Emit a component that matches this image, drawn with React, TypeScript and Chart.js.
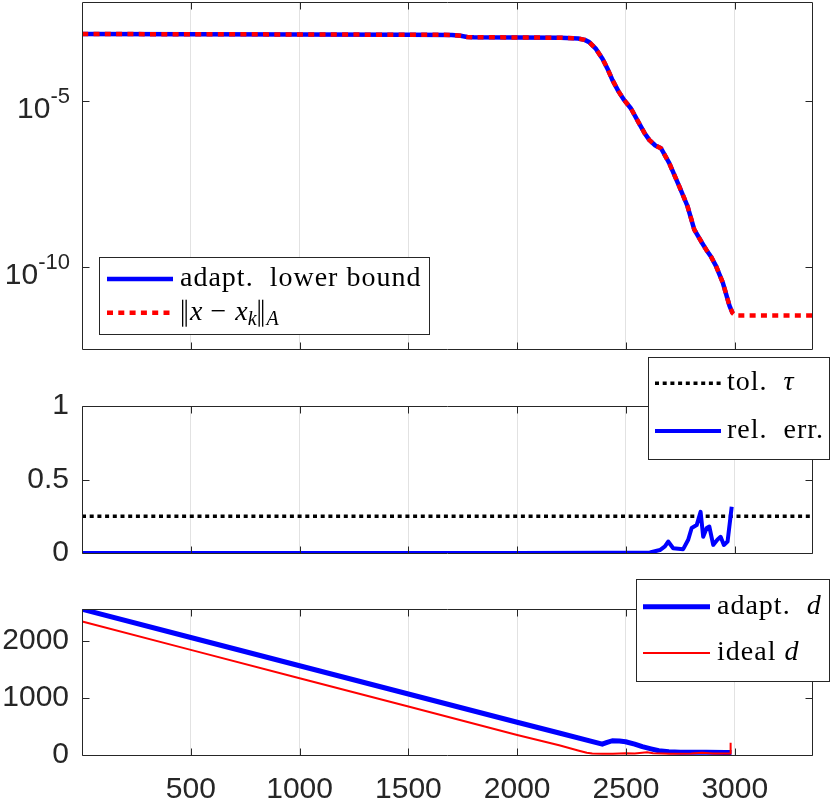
import { useEffect, useRef } from "react"
import Chart from "chart.js/auto"

const AXIS = "#262626"
const GRID = "#e2e2e2"
const SANS = '"Liberation Sans", Arial, sans-serif'
const SERIF = '"Liberation Serif", "DejaVu Serif", serif'

// shared x axis (iteration k)
const X_MIN = 0
const X_MAX = 3355
const xTicks = [500, 1000, 1500, 2000, 2500, 3000]

// top panel: A-norm of the error and its adaptive lower bound (log scale)
const boundIters = [1, 500, 1000, 1500, 1700, 1740, 1770, 1800, 2000, 2200, 2280, 2310, 2331, 2360, 2392, 2415, 2438, 2465, 2492, 2523, 2561, 2585, 2607, 2635, 2661, 2699, 2745, 2783, 2814, 2845, 2868, 2892, 2914, 2945, 2976, 2990]
const boundValues = [1.05e-3, 1.04e-3, 1.02e-3, 1.0e-3, 9.9e-4, 9.3e-4, 8.6e-4, 8.4e-4, 8.3e-4, 8.1e-4, 7.7e-4, 7.0e-4, 6.0e-4, 3.9e-4, 1.9e-4, 9.5e-5, 4.3e-5, 2.0e-5, 1.07e-5, 6.0e-6, 2.1e-6, 1.1e-6, 6.8e-7, 4.6e-7, 3.8e-7, 1.35e-7, 2.7e-8, 6.8e-9, 1.35e-9, 6.0e-10, 3.4e-10, 2.0e-10, 1.07e-10, 3.4e-11, 6.8e-12, 4.1e-12]
const errIters = [1, 500, 1000, 1500, 1700, 1740, 1770, 1800, 2000, 2200, 2280, 2310, 2331, 2360, 2392, 2415, 2438, 2465, 2492, 2523, 2561, 2585, 2607, 2635, 2661, 2699, 2745, 2783, 2814, 2845, 2868, 2892, 2914, 2945, 2976, 2990, 3002, 3355]
const errValues = [1.05e-3, 1.04e-3, 1.02e-3, 1.0e-3, 9.9e-4, 9.3e-4, 8.6e-4, 8.4e-4, 8.3e-4, 8.1e-4, 7.7e-4, 7.0e-4, 6.0e-4, 3.9e-4, 1.9e-4, 9.5e-5, 4.3e-5, 2.0e-5, 1.07e-5, 6.0e-6, 2.1e-6, 1.1e-6, 6.8e-7, 4.6e-7, 3.8e-7, 1.35e-7, 2.7e-8, 6.8e-9, 1.35e-9, 6.0e-10, 3.4e-10, 2.0e-10, 1.07e-10, 3.4e-11, 6.8e-12, 4.1e-12, 3.5e-12, 3.5e-12]
const logTicks = [1e-10, 1e-5]

// middle panel: relative error of the bound vs tolerance
const relIters = [1, 500, 1000, 1500, 2000, 2400, 2610, 2656, 2679, 2694, 2717, 2763, 2786, 2802, 2825, 2843, 2855, 2871, 2883, 2901, 2920, 2935, 2950, 2967, 2986]
const relValues = [0, 0, 0, 0, 0, 0.001, 0.003, 0.02, 0.045, 0.078, 0.032, 0.026, 0.09, 0.17, 0.19, 0.28, 0.11, 0.17, 0.18, 0.055, 0.09, 0.11, 0.055, 0.078, 0.315]
const tolIters = [0, 3355]
const tolValues = [0.25, 0.25]
const relTicks = [0, 0.5, 1]

// bottom panel: delay d
const adaptIters = [1, 500, 1000, 1500, 2000, 2193, 2391, 2410, 2437, 2470, 2498, 2540, 2575, 2615, 2651, 2697, 2750, 2804, 2870, 2957, 2985]
const adaptValues = [2555, 2060, 1565, 1070, 575, 385, 190, 215, 250, 245, 233, 190, 146, 108, 75, 58, 50, 47, 48, 46, 45]
const idealIters = [1, 500, 1000, 1500, 2000, 2193, 2284, 2320, 2345, 2391, 2440, 2498, 2540, 2597, 2625, 2700, 2800, 2850, 2900, 2960, 2979, 2981]
const idealValues = [2340, 1843, 1346, 849, 352, 170, 75, 40, 25, 20, 22, 30, 28, 48, 30, 22, 25, 40, 28, 25, 28, 215]
const dTicks = [0, 1000, 2000]

const zip = (xs: number[], ys: number[]) => xs.map((x, i) => ({ x, y: ys[i] }))

type Seg = { t: string; it?: boolean; sub?: boolean; bar?: boolean }
type LegendRow = { ds: number; y: number; text: Seg[] }
type LegendSpec = { x: number; y: number; w: number; h: number; x0: number; x1: number; tx: number; rows: LegendRow[] }

// box, inward ticks, 10^n labels and the legend, MATLAB style
function axesPlugin(top: number, legend: LegendSpec, powerLabels = false) {
  return {
    id: "matlabAxes",
    afterDatasetsDraw(chart: any) {
      const { ctx, chartArea: a, scales } = chart
      const L = Math.round(a.left) + 0.5
      const R = Math.round(a.right) + 0.5
      const T = Math.round(a.top) + 0.5
      const B = Math.round(a.bottom) + 0.5
      const tl = 7
      ctx.save()
      ctx.strokeStyle = AXIS
      ctx.lineWidth = 1
      ctx.setLineDash([])
      ctx.beginPath()
      ctx.rect(L, T, R - L, B - T)
      for (const t of scales.x.ticks) {
        const px = Math.round(scales.x.getPixelForValue(t.value)) + 0.5
        ctx.moveTo(px, B)
        ctx.lineTo(px, B - tl)
        ctx.moveTo(px, T)
        ctx.lineTo(px, T + tl)
      }
      for (const t of scales.y.ticks) {
        const py = Math.round(scales.y.getPixelForValue(t.value)) + 0.5
        ctx.moveTo(L, py)
        ctx.lineTo(L + tl, py)
        ctx.moveTo(R, py)
        ctx.lineTo(R - tl, py)
      }
      ctx.stroke()

      if (powerLabels) {
        ctx.fillStyle = AXIS
        ctx.textAlign = "left"
        ctx.textBaseline = "alphabetic"
        for (const t of scales.y.ticks) {
          const py = scales.y.getPixelForValue(t.value)
          const sup = String(Math.round(Math.log10(t.value)))
          ctx.font = `22px ${SANS}`
          const sw = ctx.measureText(sup).width
          ctx.font = `30px ${SANS}`
          const bw = ctx.measureText("10").width
          const right = a.left - 12
          ctx.fillText("10", right - sw - bw, py + 17)
          ctx.font = `22px ${SANS}`
          ctx.fillText(sup, right - sw, py + 1.5)
        }
      }

      // legend (page coordinates -> canvas coordinates)
      const oy = -top
      ctx.fillStyle = "#fff"
      ctx.fillRect(legend.x, legend.y + oy, legend.w, legend.h)
      ctx.strokeStyle = AXIS
      ctx.lineWidth = 1
      ctx.strokeRect(legend.x + 0.5, legend.y + oy + 0.5, legend.w, legend.h)
      ctx.textAlign = "left"
      ctx.textBaseline = "alphabetic"
      for (const row of legend.rows) {
        const ds = chart.data.datasets[row.ds]
        const y = row.y + oy
        ctx.save()
        ctx.strokeStyle = ds.borderColor
        ctx.lineWidth = ds.borderWidth
        ctx.setLineDash(ds.borderDash || [])
        ctx.lineCap = "butt"
        ctx.beginPath()
        ctx.moveTo(legend.x0, y)
        ctx.lineTo(legend.x1, y)
        ctx.stroke()
        ctx.restore()
        let x = legend.tx
        ctx.fillStyle = "#000"
        for (const s of row.text) {
          if (s.bar) {
            // double bar of the norm, drawn as two thin strokes
            ctx.fillRect(x + 2, y - 13, 1.3, 27)
            ctx.fillRect(x + 5.5, y - 13, 1.3, 27)
            x += 10
            continue
          }
          ctx.font = `${s.it ? "italic " : ""}${s.sub ? 20 : 28}px ${SERIF}`
          ctx.letterSpacing = s.it ? "0px" : "1px"
          ctx.fillText(s.t, x, y + 7 + (s.sub ? 5 : 0))
          x += ctx.measureText(s.t).width
        }
        ctx.letterSpacing = "0px"
      }
      ctx.restore()
    },
  }
}

function xScale(showLabels: boolean, height: number) {
  return {
    type: "linear",
    min: X_MIN,
    max: X_MAX,
    bounds: "data",
    afterBuildTicks: (s: any) => {
      s.ticks = xTicks.map((v) => ({ value: v }))
    },
    afterFit: (s: any) => {
      s.height = height
    },
    grid: { color: GRID, lineWidth: 1, drawTicks: false },
    border: { display: false },
    ticks: {
      display: showLabels,
      autoSkip: false,
      maxRotation: 0,
      padding: 17,
      color: AXIS,
      font: { family: SANS, size: 30 },
      callback: (v: number) => String(v),
    },
  }
}

function yScale(type: string, min: number, max: number, tickValues: number[], showLabels: boolean) {
  return {
    type,
    min,
    max,
    bounds: "data",
    afterBuildTicks: (s: any) => {
      s.ticks = tickValues.map((v) => ({ value: v }))
    },
    afterFit: (s: any) => {
      s.width = 82
    },
    grid: { display: false, drawTicks: false },
    border: { display: false },
    ticks: {
      display: showLabels,
      autoSkip: false,
      padding: 13,
      color: AXIS,
      font: { family: SANS, size: 30 },
      callback: (v: number) => String(v),
    },
  }
}

function line(label: string, data: any[], color: string, width: number, dash: number[], order: number) {
  return {
    label,
    data,
    borderColor: color,
    backgroundColor: color,
    borderWidth: width,
    borderDash: dash,
    borderCapStyle: "butt",
    borderJoinStyle: "round",
    pointRadius: 0,
    fill: false,
    tension: 0,
    clip: 0,
    order,
  }
}

function baseOptions(padding: any, scales: any) {
  return {
    responsive: false,
    animation: false,
    events: [],
    layout: { padding },
    plugins: { legend: { display: false }, tooltip: { enabled: false } },
    scales,
  }
}

const panels = [
  {
    top: 0,
    height: 355,
    build: () => ({
      type: "line",
      data: {
        datasets: [
          line("adapt. lower bound", zip(boundIters, boundValues), "#0000ff", 4.5, [], 2),
          line("||x - x_k||_A", zip(errIters, errValues), "#ff0000", 4.5, [6, 5.3], 1),
        ],
      },
      options: baseOptions(
        { top: 2, right: 18, bottom: 6, left: 0 },
        { x: xScale(false, 0), y: yScale("logarithmic", 3.4e-13, 9.7e-3, logTicks, false) },
      ),
      plugins: [
        axesPlugin(
          0,
          {
            x: 99, y: 257, w: 330, h: 77, x0: 107, x1: 173, tx: 180,
            rows: [
              { ds: 0, y: 279, text: [{ t: "adapt.  lower bound" }] },
              {
                ds: 1,
                y: 312.7,
                text: [
                  { t: "", bar: true }, { t: "x", it: true }, { t: " \u2212 " }, { t: "x", it: true },
                  { t: "k", it: true, sub: true }, { t: "", bar: true }, { t: "A", it: true, sub: true },
                ],
              },
            ],
          },
          true,
        ),
      ],
    }),
  },
  {
    top: 355,
    height: 235,
    build: () => ({
      type: "line",
      data: {
        datasets: [
          line("tol. tau", zip(tolIters, tolValues), "#000000", 3.5, [4, 3.7], 2),
          line("rel. err.", zip(relIters, relValues), "#0000ff", 4, [], 1),
        ],
      },
      options: baseOptions(
        { top: 51, right: 18, bottom: 37, left: 0 },
        { x: xScale(false, 0), y: yScale("linear", 0, 1, relTicks, true) },
      ),
      plugins: [
        axesPlugin(355, {
          x: 648, y: 357, w: 181, h: 102, x0: 655, x1: 721, tx: 727,
          rows: [
            { ds: 0, y: 383.3, text: [{ t: "tol.  " }, { t: "\u03c4", it: true }] },
            { ds: 1, y: 431, text: [{ t: "rel.  err." }] },
          ],
        }),
      ],
    }),
  },
  {
    top: 575,
    height: 224,
    build: () => ({
      type: "line",
      data: {
        datasets: [
          line("adapt. d", zip(adaptIters, adaptValues), "#0000ff", 5, [], 2),
          line("ideal d", zip(idealIters, idealValues), "#ff0000", 2, [], 1),
        ],
      },
      options: baseOptions(
        { top: 34, right: 18, bottom: 0, left: 0 },
        { x: xScale(true, 44), y: yScale("linear", 0, 2560, dTicks, true) },
      ),
      plugins: [
        axesPlugin(575, {
          x: 636, y: 579, w: 193, h: 102, x0: 643, x1: 710, tx: 717,
          rows: [
            { ds: 0, y: 606.7, text: [{ t: "adapt.  " }, { t: "d", it: true }] },
            { ds: 1, y: 653, text: [{ t: "ideal " }, { t: "d", it: true }] },
          ],
        }),
      ],
    }),
  },
]

function Panel({ top, height, build }: { top: number; height: number; build: () => any }) {
  const canvasRef = useRef<HTMLCanvasElement>(null)

  useEffect(() => {
    if (!canvasRef.current) return
    const chart = new Chart(canvasRef.current, build())
    return () => chart.destroy()
  }, [build])

  return (
    <div style={{ position: "absolute", left: 0, top, width: 830, height }}>
      <canvas ref={canvasRef} width={830} height={height} style={{ display: "block" }} />
    </div>
  )
}

export default function App() {
  return (
    <div style={{ position: "absolute", left: 0, top: 0, width: 830, height: 799, background: "#fff" }}>
      {panels.map((p) => (
        <Panel key={p.top} top={p.top} height={p.height} build={p.build} />
      ))}
    </div>
  )
}
